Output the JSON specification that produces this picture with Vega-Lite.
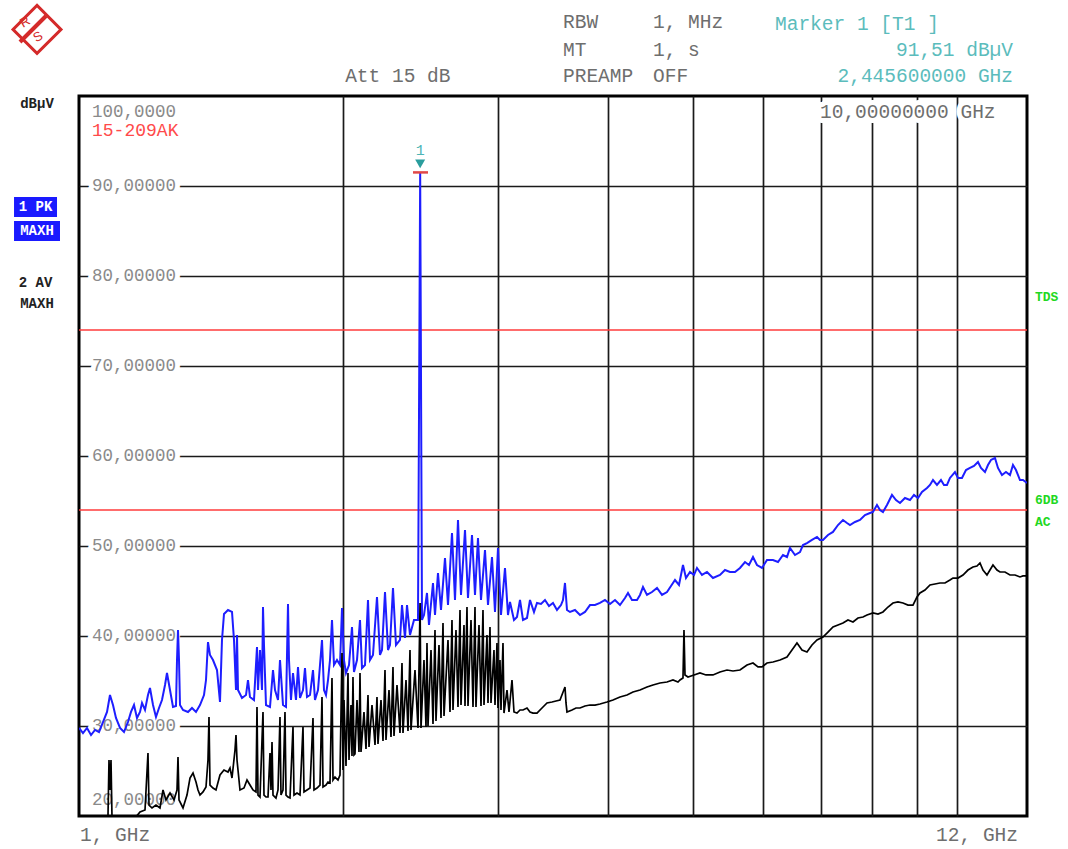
{
"$schema": "https://vega.github.io/schema/vega-lite/v6.json",
"width": 948, "height": 720,
"autosize": {"type": "none"},
"padding": {"left": 79, "top": 96, "right": 41, "bottom": 33},
"background": "white",
"config": {"view": {"stroke": "#000", "strokeWidth": 3}, "font": "Liberation Mono"},
"datasets": {
"pk": [
{"GHz":1.0,"dBuV":29.78},{"GHz":1.0105,"dBuV":29.22},{"GHz":1.0212,"dBuV":29.78},{"GHz":1.032,"dBuV":29.0},{"GHz":1.0428,"dBuV":29.56},{"GHz":1.0538,"dBuV":29.33},{"GHz":1.0649,"dBuV":30.44},{"GHz":1.0762,"dBuV":31.56},{"GHz":1.0846,"dBuV":33.44},{"GHz":1.0932,"dBuV":32.33},{"GHz":1.1018,"dBuV":30.89},{"GHz":1.1135,"dBuV":29.78},{"GHz":1.1252,"dBuV":29.33},{"GHz":1.137,"dBuV":30.44},{"GHz":1.146,"dBuV":31.56},{"GHz":1.1551,"dBuV":32.33},{"GHz":1.1642,"dBuV":30.89},{"GHz":1.1734,"dBuV":31.56},{"GHz":1.1796,"dBuV":32.56},{"GHz":1.1889,"dBuV":31.78},{"GHz":1.1982,"dBuV":33.44},{"GHz":1.2045,"dBuV":34.22},{"GHz":1.2141,"dBuV":32.33},{"GHz":1.2236,"dBuV":31.0},{"GHz":1.2333,"dBuV":32.0},{"GHz":1.243,"dBuV":32.89},{"GHz":1.2529,"dBuV":34.56},{"GHz":1.2594,"dBuV":35.89},{"GHz":1.2694,"dBuV":34.0},{"GHz":1.2794,"dBuV":32.11},{"GHz":1.2895,"dBuV":32.22},{"GHz":1.2929,"dBuV":37.33},{"GHz":1.2963,"dBuV":40.67},{"GHz":1.2997,"dBuV":37.33},{"GHz":1.3031,"dBuV":32.33},{"GHz":1.3134,"dBuV":31.78},{"GHz":1.3307,"dBuV":31.56},{"GHz":1.3447,"dBuV":32.0},{"GHz":1.3589,"dBuV":31.56},{"GHz":1.3732,"dBuV":32.33},{"GHz":1.3877,"dBuV":33.44},{"GHz":1.395,"dBuV":35.11},{"GHz":1.4023,"dBuV":39.33},{"GHz":1.4097,"dBuV":37.89},{"GHz":1.4208,"dBuV":37.33},{"GHz":1.4358,"dBuV":36.22},{"GHz":1.4471,"dBuV":32.67},{"GHz":1.4547,"dBuV":39.56},{"GHz":1.4624,"dBuV":42.44},{"GHz":1.4778,"dBuV":42.89},{"GHz":1.4934,"dBuV":42.67},{"GHz":1.5012,"dBuV":39.56},{"GHz":1.5091,"dBuV":34.0},{"GHz":1.5131,"dBuV":40.11},{"GHz":1.5171,"dBuV":34.0},{"GHz":1.533,"dBuV":33.11},{"GHz":1.5492,"dBuV":33.44},{"GHz":1.5573,"dBuV":35.11},{"GHz":1.5655,"dBuV":33.22},{"GHz":1.582,"dBuV":32.89},{"GHz":1.5945,"dBuV":38.78},{"GHz":1.5987,"dBuV":34.0},{"GHz":1.6071,"dBuV":38.44},{"GHz":1.6156,"dBuV":34.0},{"GHz":1.6198,"dBuV":43.22},{"GHz":1.624,"dBuV":39.0},{"GHz":1.6326,"dBuV":32.33},{"GHz":1.6498,"dBuV":32.11},{"GHz":1.6628,"dBuV":36.22},{"GHz":1.6716,"dBuV":34.0},{"GHz":1.6848,"dBuV":32.89},{"GHz":1.6936,"dBuV":37.33},{"GHz":1.707,"dBuV":32.33},{"GHz":1.7205,"dBuV":32.11},{"GHz":1.7295,"dBuV":43.56},{"GHz":1.734,"dBuV":37.33},{"GHz":1.7431,"dBuV":32.89},{"GHz":1.7523,"dBuV":35.89},{"GHz":1.7661,"dBuV":32.89},{"GHz":1.7754,"dBuV":36.56},{"GHz":1.7848,"dBuV":33.11},{"GHz":1.7988,"dBuV":34.0},{"GHz":1.8083,"dBuV":36.44},{"GHz":1.8178,"dBuV":33.22},{"GHz":1.8322,"dBuV":33.44},{"GHz":1.8466,"dBuV":36.22},{"GHz":1.8563,"dBuV":32.89},{"GHz":1.871,"dBuV":34.0},{"GHz":1.8907,"dBuV":39.56},{"GHz":1.9006,"dBuV":34.0},{"GHz":1.9106,"dBuV":33.44},{"GHz":1.9207,"dBuV":35.11},{"GHz":1.9308,"dBuV":37.33},{"GHz":1.9409,"dBuV":41.78},{"GHz":1.9511,"dBuV":36.78},{"GHz":1.9665,"dBuV":37.33},{"GHz":1.982,"dBuV":36.78},{"GHz":1.9925,"dBuV":43.11},{"GHz":2.0029,"dBuV":37.33},{"GHz":2.0135,"dBuV":35.89},{"GHz":2.0294,"dBuV":36.78},{"GHz":2.0454,"dBuV":41.0},{"GHz":2.0561,"dBuV":36.0},{"GHz":2.0724,"dBuV":37.33},{"GHz":2.0887,"dBuV":41.78},{"GHz":2.0997,"dBuV":36.44},{"GHz":2.1163,"dBuV":36.78},{"GHz":2.133,"dBuV":44.0},{"GHz":2.1442,"dBuV":37.33},{"GHz":2.1611,"dBuV":37.89},{"GHz":2.1839,"dBuV":44.33},{"GHz":2.2011,"dBuV":37.89},{"GHz":2.2127,"dBuV":38.44},{"GHz":2.2302,"dBuV":44.89},{"GHz":2.2478,"dBuV":38.44},{"GHz":2.2596,"dBuV":39.0},{"GHz":2.2774,"dBuV":45.33},{"GHz":2.2954,"dBuV":39.0},{"GHz":2.3196,"dBuV":39.56},{"GHz":2.3318,"dBuV":43.44},{"GHz":2.3502,"dBuV":39.78},{"GHz":2.3626,"dBuV":43.44},{"GHz":2.3812,"dBuV":40.11},{"GHz":2.4063,"dBuV":41.78},{"GHz":2.4317,"dBuV":41.78},{"GHz":2.4456,"dBuV":91.51},{"GHz":2.4573,"dBuV":41.78},{"GHz":2.4702,"dBuV":42.33},{"GHz":2.4897,"dBuV":44.78},{"GHz":2.5028,"dBuV":41.22},{"GHz":2.5292,"dBuV":45.89},{"GHz":2.5425,"dBuV":42.33},{"GHz":2.5625,"dBuV":47.0},{"GHz":2.5828,"dBuV":42.89},{"GHz":2.61,"dBuV":48.67},{"GHz":2.6306,"dBuV":43.44},{"GHz":2.6583,"dBuV":51.44},{"GHz":2.6793,"dBuV":44.0},{"GHz":2.7005,"dBuV":52.89},{"GHz":2.7218,"dBuV":44.56},{"GHz":2.7505,"dBuV":51.78},{"GHz":2.7722,"dBuV":44.22},{"GHz":2.8014,"dBuV":51.22},{"GHz":2.8235,"dBuV":44.56},{"GHz":2.8458,"dBuV":50.89},{"GHz":2.8683,"dBuV":44.0},{"GHz":2.8985,"dBuV":49.56},{"GHz":2.9214,"dBuV":43.44},{"GHz":2.9522,"dBuV":48.78},{"GHz":2.9755,"dBuV":42.67},{"GHz":2.999,"dBuV":49.78},{"GHz":3.0226,"dBuV":42.33},{"GHz":3.0545,"dBuV":47.56},{"GHz":3.0786,"dBuV":42.33},{"GHz":3.0948,"dBuV":43.78},{"GHz":3.1274,"dBuV":41.78},{"GHz":3.1521,"dBuV":42.11},{"GHz":3.177,"dBuV":44.0},{"GHz":3.2021,"dBuV":41.78},{"GHz":3.2358,"dBuV":42.0},{"GHz":3.2614,"dBuV":44.0},{"GHz":3.2957,"dBuV":42.67},{"GHz":3.3218,"dBuV":43.67},{"GHz":3.3568,"dBuV":43.56},{"GHz":3.3921,"dBuV":44.0},{"GHz":3.4279,"dBuV":43.33},{"GHz":3.464,"dBuV":43.67},{"GHz":3.5005,"dBuV":42.89},{"GHz":3.5374,"dBuV":43.44},{"GHz":3.556,"dBuV":44.0},{"GHz":3.5747,"dBuV":45.89},{"GHz":3.5935,"dBuV":42.89},{"GHz":3.6219,"dBuV":42.67},{"GHz":3.6696,"dBuV":42.89},{"GHz":3.7181,"dBuV":42.33},{"GHz":3.7671,"dBuV":42.67},{"GHz":3.8168,"dBuV":43.44},{"GHz":3.8672,"dBuV":43.44},{"GHz":3.9182,"dBuV":43.67},{"GHz":3.9699,"dBuV":44.0},{"GHz":4.0222,"dBuV":43.56},{"GHz":4.0753,"dBuV":44.0},{"GHz":4.1291,"dBuV":43.44},{"GHz":4.1835,"dBuV":44.22},{"GHz":4.2166,"dBuV":44.78},{"GHz":4.261,"dBuV":44.0},{"GHz":4.3172,"dBuV":44.0},{"GHz":4.3513,"dBuV":44.56},{"GHz":4.3856,"dBuV":45.44},{"GHz":4.4319,"dBuV":44.56},{"GHz":4.4903,"dBuV":44.89},{"GHz":4.5496,"dBuV":45.33},{"GHz":4.6096,"dBuV":44.56},{"GHz":4.6704,"dBuV":44.89},{"GHz":4.7196,"dBuV":45.56},{"GHz":4.7694,"dBuV":46.22},{"GHz":4.8196,"dBuV":45.67},{"GHz":4.8704,"dBuV":47.89},{"GHz":4.9089,"dBuV":46.44},{"GHz":4.9606,"dBuV":47.11},{"GHz":5.0129,"dBuV":46.78},{"GHz":5.0525,"dBuV":47.56},{"GHz":5.1191,"dBuV":46.78},{"GHz":5.1867,"dBuV":47.11},{"GHz":5.2689,"dBuV":46.44},{"GHz":5.3664,"dBuV":46.78},{"GHz":5.4372,"dBuV":47.33},{"GHz":5.5089,"dBuV":47.11},{"GHz":5.5816,"dBuV":47.11},{"GHz":5.6552,"dBuV":47.56},{"GHz":5.7299,"dBuV":48.22},{"GHz":5.7902,"dBuV":47.89},{"GHz":5.8513,"dBuV":48.78},{"GHz":5.9129,"dBuV":47.89},{"GHz":5.9909,"dBuV":47.56},{"GHz":6.07,"dBuV":48.44},{"GHz":6.1662,"dBuV":48.44},{"GHz":6.2475,"dBuV":48.22},{"GHz":6.3299,"dBuV":49.0},{"GHz":6.3967,"dBuV":48.78},{"GHz":6.4471,"dBuV":49.78},{"GHz":6.5322,"dBuV":49.0},{"GHz":6.6184,"dBuV":49.33},{"GHz":6.6706,"dBuV":50.11},{"GHz":6.7409,"dBuV":50.33},{"GHz":6.8298,"dBuV":50.67},{"GHz":6.92,"dBuV":51.0},{"GHz":6.9746,"dBuV":50.67},{"GHz":7.0296,"dBuV":50.67},{"GHz":7.1224,"dBuV":51.22},{"GHz":7.2163,"dBuV":51.56},{"GHz":7.3115,"dBuV":52.33},{"GHz":7.408,"dBuV":52.89},{"GHz":7.4861,"dBuV":52.56},{"GHz":7.5451,"dBuV":52.33},{"GHz":7.6447,"dBuV":52.67},{"GHz":7.7455,"dBuV":52.89},{"GHz":7.8477,"dBuV":53.44},{"GHz":7.9512,"dBuV":53.67},{"GHz":8.014,"dBuV":53.78},{"GHz":8.0985,"dBuV":54.56},{"GHz":8.1624,"dBuV":54.0},{"GHz":8.2268,"dBuV":53.78},{"GHz":8.3135,"dBuV":54.56},{"GHz":8.4232,"dBuV":55.67},{"GHz":8.512,"dBuV":55.11},{"GHz":8.6017,"dBuV":54.78},{"GHz":8.7152,"dBuV":55.33},{"GHz":8.8301,"dBuV":55.11},{"GHz":8.9232,"dBuV":55.67},{"GHz":9.0173,"dBuV":55.33},{"GHz":9.1123,"dBuV":56.0},{"GHz":9.2325,"dBuV":56.44},{"GHz":9.3054,"dBuV":56.78},{"GHz":9.3788,"dBuV":57.33},{"GHz":9.4777,"dBuV":56.78},{"GHz":9.5776,"dBuV":57.33},{"GHz":9.6532,"dBuV":56.78},{"GHz":9.7294,"dBuV":56.78},{"GHz":9.8062,"dBuV":57.56},{"GHz":9.9355,"dBuV":58.22},{"GHz":10.014,"dBuV":57.56},{"GHz":10.1196,"dBuV":57.56},{"GHz":10.2262,"dBuV":58.44},{"GHz":10.334,"dBuV":58.67},{"GHz":10.4429,"dBuV":58.89},{"GHz":10.553,"dBuV":59.33},{"GHz":10.6362,"dBuV":58.67},{"GHz":10.7483,"dBuV":58.22},{"GHz":10.8332,"dBuV":59.0},{"GHz":10.9187,"dBuV":59.56},{"GHz":11.0338,"dBuV":59.78},{"GHz":11.1209,"dBuV":58.67},{"GHz":11.2381,"dBuV":57.89},{"GHz":11.3566,"dBuV":58.22},{"GHz":11.4762,"dBuV":57.89},{"GHz":11.5668,"dBuV":59.0},{"GHz":11.6582,"dBuV":58.44},{"GHz":11.781,"dBuV":57.33},{"GHz":11.874,"dBuV":57.33},{"GHz":12.0,"dBuV":57.0}
],
"av": [
{"GHz":1.0,"dBuV":19.33},{"GHz":1.0428,"dBuV":19.33},{"GHz":1.0733,"dBuV":19.56},{"GHz":1.079,"dBuV":20.11},{"GHz":1.0818,"dBuV":26.22},{"GHz":1.0846,"dBuV":22.89},{"GHz":1.0875,"dBuV":26.22},{"GHz":1.0904,"dBuV":19.78},{"GHz":1.1281,"dBuV":19.56},{"GHz":1.1581,"dBuV":19.78},{"GHz":1.1734,"dBuV":20.44},{"GHz":1.1889,"dBuV":20.67},{"GHz":1.1982,"dBuV":27.0},{"GHz":1.2014,"dBuV":21.22},{"GHz":1.2109,"dBuV":20.89},{"GHz":1.2236,"dBuV":21.22},{"GHz":1.2365,"dBuV":20.89},{"GHz":1.2463,"dBuV":22.89},{"GHz":1.2561,"dBuV":21.78},{"GHz":1.2694,"dBuV":22.56},{"GHz":1.2828,"dBuV":21.78},{"GHz":1.2929,"dBuV":22.89},{"GHz":1.2963,"dBuV":26.56},{"GHz":1.2997,"dBuV":21.78},{"GHz":1.3134,"dBuV":20.89},{"GHz":1.3272,"dBuV":22.33},{"GHz":1.3377,"dBuV":24.22},{"GHz":1.3483,"dBuV":24.78},{"GHz":1.3589,"dBuV":23.78},{"GHz":1.3661,"dBuV":22.89},{"GHz":1.3732,"dBuV":22.33},{"GHz":1.3841,"dBuV":22.67},{"GHz":1.395,"dBuV":23.22},{"GHz":1.4023,"dBuV":26.22},{"GHz":1.406,"dBuV":31.0},{"GHz":1.4097,"dBuV":23.44},{"GHz":1.4208,"dBuV":23.11},{"GHz":1.432,"dBuV":22.89},{"GHz":1.4471,"dBuV":24.56},{"GHz":1.4624,"dBuV":25.11},{"GHz":1.4778,"dBuV":24.89},{"GHz":1.4856,"dBuV":25.33},{"GHz":1.4934,"dBuV":24.22},{"GHz":1.5052,"dBuV":27.33},{"GHz":1.5091,"dBuV":29.0},{"GHz":1.5131,"dBuV":26.22},{"GHz":1.525,"dBuV":22.89},{"GHz":1.5411,"dBuV":23.11},{"GHz":1.5533,"dBuV":24.0},{"GHz":1.5655,"dBuV":23.44},{"GHz":1.5779,"dBuV":22.89},{"GHz":1.5903,"dBuV":22.67},{"GHz":1.5945,"dBuV":32.11},{"GHz":1.5987,"dBuV":22.33},{"GHz":1.6071,"dBuV":22.11},{"GHz":1.6198,"dBuV":31.56},{"GHz":1.624,"dBuV":22.33},{"GHz":1.6326,"dBuV":22.11},{"GHz":1.6412,"dBuV":22.11},{"GHz":1.6498,"dBuV":27.0},{"GHz":1.6541,"dBuV":22.89},{"GHz":1.6585,"dBuV":28.22},{"GHz":1.6628,"dBuV":22.33},{"GHz":1.6759,"dBuV":22.0},{"GHz":1.6848,"dBuV":22.89},{"GHz":1.6936,"dBuV":31.0},{"GHz":1.698,"dBuV":22.33},{"GHz":1.707,"dBuV":22.89},{"GHz":1.7159,"dBuV":31.56},{"GHz":1.7205,"dBuV":22.33},{"GHz":1.7295,"dBuV":22.11},{"GHz":1.7386,"dBuV":22.0},{"GHz":1.7523,"dBuV":29.89},{"GHz":1.7569,"dBuV":22.33},{"GHz":1.7708,"dBuV":22.56},{"GHz":1.7848,"dBuV":22.33},{"GHz":1.7988,"dBuV":29.89},{"GHz":1.8036,"dBuV":22.67},{"GHz":1.8178,"dBuV":22.89},{"GHz":1.8322,"dBuV":23.11},{"GHz":1.8466,"dBuV":30.89},{"GHz":1.8515,"dBuV":22.89},{"GHz":1.8661,"dBuV":23.11},{"GHz":1.8808,"dBuV":23.44},{"GHz":1.8907,"dBuV":33.22},{"GHz":1.8957,"dBuV":23.22},{"GHz":1.9106,"dBuV":23.44},{"GHz":1.9207,"dBuV":23.78},{"GHz":1.9308,"dBuV":23.67},{"GHz":1.9409,"dBuV":35.33},{"GHz":1.946,"dBuV":24.0},{"GHz":1.9562,"dBuV":24.33},{"GHz":1.9717,"dBuV":24.0},
{"GHz":1.982,"dBuV":24.56},{"GHz":1.9925,"dBuV":38.11},{"GHz":1.9977,"dBuV":25.11},{"GHz":2.0029,"dBuV":32.89},{"GHz":2.0135,"dBuV":25.56},{"GHz":2.024,"dBuV":35.89},{"GHz":2.0294,"dBuV":26.22},{"GHz":2.04,"dBuV":32.33},{"GHz":2.0454,"dBuV":26.67},{"GHz":2.0507,"dBuV":35.44},{"GHz":2.0561,"dBuV":26.78},{"GHz":2.0615,"dBuV":26.89},{"GHz":2.0724,"dBuV":32.89},{"GHz":2.0832,"dBuV":27.11},{"GHz":2.0887,"dBuV":35.89},{"GHz":2.0942,"dBuV":27.11},{"GHz":2.1107,"dBuV":31.56},{"GHz":2.1218,"dBuV":27.44},{"GHz":2.133,"dBuV":33.44},{"GHz":2.1386,"dBuV":27.67},{"GHz":2.1555,"dBuV":32.33},{"GHz":2.1725,"dBuV":27.89},{"GHz":2.1839,"dBuV":33.22},{"GHz":2.1896,"dBuV":28.0},{"GHz":2.2069,"dBuV":32.89},{"GHz":2.2185,"dBuV":28.33},{"GHz":2.2302,"dBuV":36.22},{"GHz":2.236,"dBuV":28.44},{"GHz":2.2537,"dBuV":34.0},{"GHz":2.2655,"dBuV":28.78},{"GHz":2.2774,"dBuV":36.56},{"GHz":2.2834,"dBuV":28.89},{"GHz":2.3014,"dBuV":34.56},{"GHz":2.3196,"dBuV":29.22},{"GHz":2.3318,"dBuV":37.0},{"GHz":2.3379,"dBuV":29.22},{"GHz":2.3564,"dBuV":35.11},{"GHz":2.3688,"dBuV":29.44},{"GHz":2.3812,"dBuV":38.44},{"GHz":2.3875,"dBuV":29.56},{"GHz":2.4126,"dBuV":36.22},{"GHz":2.4317,"dBuV":29.78},{"GHz":2.445,"dBuV":43.67},{"GHz":2.4509,"dBuV":29.78},{"GHz":2.4702,"dBuV":37.33},{"GHz":2.4832,"dBuV":29.89},{"GHz":2.4897,"dBuV":39.22},{"GHz":2.4963,"dBuV":30.0},{"GHz":2.516,"dBuV":38.44},{"GHz":2.5292,"dBuV":30.22},{"GHz":2.5425,"dBuV":40.67},{"GHz":2.5491,"dBuV":30.56},{"GHz":2.5693,"dBuV":39.0},{"GHz":2.5828,"dBuV":30.89},{"GHz":2.5964,"dBuV":41.44},{"GHz":2.6032,"dBuV":31.11},{"GHz":2.6306,"dBuV":39.56},{"GHz":2.6444,"dBuV":31.56},{"GHz":2.6583,"dBuV":41.78},{"GHz":2.6653,"dBuV":31.78},{"GHz":2.6863,"dBuV":40.67},{"GHz":2.7005,"dBuV":32.11},{"GHz":2.7147,"dBuV":42.89},{"GHz":2.7218,"dBuV":32.33},{"GHz":2.7433,"dBuV":41.22},{"GHz":2.7505,"dBuV":32.22},{"GHz":2.7649,"dBuV":43.22},{"GHz":2.7722,"dBuV":32.22},{"GHz":2.7941,"dBuV":41.78},{"GHz":2.8088,"dBuV":32.11},{"GHz":2.8235,"dBuV":43.22},{"GHz":2.8309,"dBuV":32.11},{"GHz":2.8533,"dBuV":41.22},{"GHz":2.8683,"dBuV":32.22},{"GHz":2.8833,"dBuV":42.89},{"GHz":2.8909,"dBuV":32.33},{"GHz":2.9137,"dBuV":40.11},{"GHz":2.9214,"dBuV":32.56},{"GHz":2.9367,"dBuV":41.0},{"GHz":2.9444,"dBuV":32.56},{"GHz":2.9677,"dBuV":38.44},{"GHz":2.9755,"dBuV":32.33},{"GHz":2.9911,"dBuV":39.22},{"GHz":2.999,"dBuV":32.0},{"GHz":3.0147,"dBuV":37.33},{"GHz":3.0226,"dBuV":31.78},{"GHz":3.0385,"dBuV":39.22},{"GHz":3.0465,"dBuV":31.44},{"GHz":3.0706,"dBuV":34.0},{"GHz":3.0867,"dBuV":31.56},{"GHz":3.1111,"dBuV":35.11},{"GHz":3.1274,"dBuV":31.56},
{"GHz":3.1521,"dBuV":31.44},{"GHz":3.177,"dBuV":31.78},{"GHz":3.2021,"dBuV":31.78},{"GHz":3.2358,"dBuV":32.0},{"GHz":3.2614,"dBuV":31.56},{"GHz":3.2871,"dBuV":31.44},{"GHz":3.3218,"dBuV":31.44},{"GHz":3.3656,"dBuV":32.0},{"GHz":3.41,"dBuV":32.56},{"GHz":3.455,"dBuV":32.67},{"GHz":3.4914,"dBuV":32.78},{"GHz":3.5282,"dBuV":32.89},{"GHz":3.5747,"dBuV":34.33},{"GHz":3.5841,"dBuV":32.56},{"GHz":3.5935,"dBuV":31.56},{"GHz":3.6409,"dBuV":31.78},{"GHz":3.6793,"dBuV":32.0},{"GHz":3.7181,"dBuV":32.0},{"GHz":3.7671,"dBuV":32.22},{"GHz":3.8168,"dBuV":32.33},{"GHz":3.8672,"dBuV":32.33},{"GHz":3.9182,"dBuV":32.44},{"GHz":3.9907,"dBuV":32.67},{"GHz":4.054,"dBuV":32.89},{"GHz":4.1291,"dBuV":33.22},{"GHz":4.2055,"dBuV":33.44},{"GHz":4.2722,"dBuV":33.78},{"GHz":4.3513,"dBuV":34.0},{"GHz":4.4319,"dBuV":34.33},{"GHz":4.5021,"dBuV":34.56},{"GHz":4.5855,"dBuV":34.78},{"GHz":4.6704,"dBuV":34.89},{"GHz":4.7444,"dBuV":35.11},{"GHz":4.807,"dBuV":34.89},{"GHz":4.8323,"dBuV":35.11},{"GHz":4.8704,"dBuV":35.33},{"GHz":4.8832,"dBuV":40.67},{"GHz":4.896,"dBuV":35.67},{"GHz":4.9347,"dBuV":35.44},{"GHz":5.0129,"dBuV":35.67},{"GHz":5.0923,"dBuV":35.89},{"GHz":5.1731,"dBuV":35.67},{"GHz":5.2689,"dBuV":35.67},{"GHz":5.3664,"dBuV":36.0},{"GHz":5.4658,"dBuV":36.22},{"GHz":5.5524,"dBuV":36.11},{"GHz":5.6552,"dBuV":36.22},{"GHz":5.76,"dBuV":36.78},{"GHz":5.8513,"dBuV":37.0},{"GHz":5.9285,"dBuV":36.56},{"GHz":5.9909,"dBuV":36.56},{"GHz":6.07,"dBuV":37.0},{"GHz":6.1662,"dBuV":37.11},{"GHz":6.2804,"dBuV":37.33},{"GHz":6.3967,"dBuV":37.67},{"GHz":6.481,"dBuV":38.44},{"GHz":6.5665,"dBuV":39.22},{"GHz":6.6532,"dBuV":38.44},{"GHz":6.7409,"dBuV":38.22},{"GHz":6.8298,"dBuV":39.0},{"GHz":6.92,"dBuV":39.56},{"GHz":7.0296,"dBuV":39.89},{"GHz":7.1224,"dBuV":40.44},{"GHz":7.2163,"dBuV":41.0},{"GHz":7.3115,"dBuV":41.22},{"GHz":7.408,"dBuV":41.44},{"GHz":7.5057,"dBuV":41.78},{"GHz":7.6047,"dBuV":41.56},{"GHz":7.705,"dBuV":42.0},{"GHz":7.8067,"dBuV":42.11},{"GHz":7.889,"dBuV":42.33},{"GHz":8.014,"dBuV":42.56},{"GHz":8.1197,"dBuV":42.44},{"GHz":8.2268,"dBuV":42.67},{"GHz":8.3354,"dBuV":43.22},{"GHz":8.4453,"dBuV":43.67},{"GHz":8.5567,"dBuV":43.78},{"GHz":8.6696,"dBuV":43.67},{"GHz":8.784,"dBuV":43.44},{"GHz":8.8998,"dBuV":43.44},{"GHz":8.9937,"dBuV":44.33},{"GHz":9.0646,"dBuV":44.78},{"GHz":9.1842,"dBuV":45.11},{"GHz":9.3054,"dBuV":45.67},{"GHz":9.4281,"dBuV":45.78},{"GHz":9.5525,"dBuV":45.89},{"GHz":9.6785,"dBuV":45.89},{"GHz":9.8062,"dBuV":46.22},{"GHz":9.8836,"dBuV":46.44},{"GHz":10.014,"dBuV":46.44},{"GHz":10.1461,"dBuV":46.78},{"GHz":10.28,"dBuV":47.33},{"GHz":10.4155,"dBuV":47.67},{"GHz":10.5253,"dBuV":47.78},{"GHz":10.6084,"dBuV":48.11},{"GHz":10.6921,"dBuV":47.33},{"GHz":10.8048,"dBuV":46.78},{"GHz":10.8901,"dBuV":47.33},{"GHz":10.9761,"dBuV":47.89},{"GHz":11.0918,"dBuV":47.33},{"GHz":11.1794,"dBuV":47.11},{"GHz":11.3269,"dBuV":47.11},{"GHz":11.4762,"dBuV":46.78},{"GHz":11.6277,"dBuV":46.78},{"GHz":11.781,"dBuV":46.56},{"GHz":11.874,"dBuV":46.67},{"GHz":12.0,"dBuV":46.67}
],
"ylab": [
{"dBuV":90,"label":"90,00000"},{"dBuV":80,"label":"80,00000"},{"dBuV":70,"label":"70,00000"},{"dBuV":60,"label":"60,00000"},{"dBuV":50,"label":"50,00000"},{"dBuV":40,"label":"40,00000"},{"dBuV":30,"label":"30,00000"}
],
"limits": [{"name":"TDS","dBuV":74},{"name":"6DB AC","dBuV":54}]
},
"layer": [
{"data":{"name":"limits"},"mark":{"type":"rule","color":"#ff3b3b","strokeWidth":1.6},
 "encoding":{
  "x":{"datum":1,"type":"quantitative","scale":{"type":"log","domain":[1,12],"nice":false},"axis":{"values":[2,3,4,5,6,7,8,9,10],"grid":true,"gridColor":"#1a1a1a","gridWidth":1.7,"gridOpacity":1,"labels":false,"ticks":false,"domain":false,"title":null,"zindex":0}},
  "x2":{"datum":12},
  "y":{"field":"dBuV","type":"quantitative","scale":{"domain":[20,100],"nice":false,"zero":false},"axis":{"values":[30,40,50,60,70,80,90],"grid":true,"gridColor":"#1a1a1a","gridWidth":1.7,"gridOpacity":1,"labels":false,"ticks":false,"domain":false,"title":null,"zindex":0}}}},
{"data":{"name":"ylab"},"mark":{"type":"text","align":"left","baseline":"middle","dx":13,"font":"Liberation Mono","fontSize":17.5,"fill":"white","stroke":"white","strokeWidth":10,"strokeJoin":"round"},
 "encoding":{"x":{"datum":1,"type":"quantitative"},"y":{"field":"dBuV","type":"quantitative"},"text":{"field":"label"}}},
{"data":{"name":"ylab"},"mark":{"type":"text","align":"left","baseline":"middle","dx":13,"font":"Liberation Mono","fontSize":17.5,"fill":"#8a8a8a"},
 "encoding":{"x":{"datum":1,"type":"quantitative"},"y":{"field":"dBuV","type":"quantitative"},"text":{"field":"label"}}},
{"data":{"values":[{}]},"mark":{"type":"text","align":"left","baseline":"middle","font":"Liberation Mono","fontSize":19.5,"fill":"white","stroke":"white","strokeWidth":10,"strokeJoin":"round","text":"10,00000000 GHz"},
 "encoding":{"x":{"datum":6.975,"type":"quantitative"},"y":{"datum":98.2,"type":"quantitative"}}},
{"data":{"values":[{}]},"mark":{"type":"text","align":"left","baseline":"middle","font":"Liberation Mono","fontSize":19.5,"fill":"#6e6e6e","text":"10,00000000 GHz"},
 "encoding":{"x":{"datum":6.975,"type":"quantitative"},"y":{"datum":98.2,"type":"quantitative"}}},
{"data":{"values":[{}]},"mark":{"type":"text","align":"left","baseline":"middle","font":"Liberation Mono","fontSize":17.5,"fill":"#8a8a8a","text":"100,0000"},
 "encoding":{"x":{"datum":1.0347,"type":"quantitative"},"y":{"datum":98.2,"type":"quantitative"}}},
{"data":{"values":[{}]},"mark":{"type":"text","align":"left","baseline":"middle","font":"Liberation Mono","fontSize":18,"fill":"#ff4a4a","text":"15-209AK"},
 "encoding":{"x":{"datum":1.0347,"type":"quantitative"},"y":{"datum":96.1,"type":"quantitative"}}},
{"data":{"values":[{}]},"mark":{"type":"text","align":"left","baseline":"middle","font":"Liberation Mono","fontSize":17.5,"fill":"#8a8a8a","text":"20,00000"},
 "encoding":{"x":{"datum":1.0347,"type":"quantitative"},"y":{"datum":21.75,"type":"quantitative"}}},
{"data":{"name":"pk"},"mark":{"type":"line","color":"#1e1eff","strokeWidth":2,"clip":true},
 "encoding":{"x":{"field":"GHz","type":"quantitative"},"y":{"field":"dBuV","type":"quantitative"}}},
{"data":{"name":"av"},"mark":{"type":"line","color":"#000000","strokeWidth":1.7,"clip":true},
 "encoding":{"x":{"field":"GHz","type":"quantitative"},"y":{"field":"dBuV","type":"quantitative"}}},
{"data":{"values":[{}]},"mark":{"type":"rule","color":"#e04848","strokeWidth":2.5},
 "encoding":{"x":{"datum":2.4001,"type":"quantitative"},"x2":{"datum":2.4963},"y":{"datum":91.51,"type":"quantitative"}}},
{"data":{"values":[{}]},"mark":{"type":"point","shape":"triangle-down","filled":true,"color":"#2a9d9d","size":100,"opacity":1},
 "encoding":{"x":{"datum":2.4456,"type":"quantitative"},"y":{"datum":92.45,"type":"quantitative"}}},
{"data":{"values":[{}]},"mark":{"type":"text","align":"center","baseline":"middle","font":"Liberation Mono","fontSize":15,"fill":"#4cb5b5","text":"1"},
 "encoding":{"x":{"datum":2.4456,"type":"quantitative"},"y":{"datum":94.0,"type":"quantitative"}}},
{"data":{"values":[{}]},"mark":{"type":"text","align":"left","baseline":"middle","font":"Liberation Mono","fontSize":19.5,"fill":"#6e6e6e","text":"Att 15 dB"},
 "encoding":{"x":{"datum":2.009,"type":"quantitative"},"y":{"datum":102.2,"type":"quantitative"}}},
{"data":{"values":[{}]},"mark":{"type":"text","align":"left","baseline":"middle","font":"Liberation Mono","fontSize":19.5,"fill":"#6e6e6e","text":"RBW"},
 "encoding":{"x":{"datum":3.556,"type":"quantitative"},"y":{"datum":108.2,"type":"quantitative"}}},
{"data":{"values":[{}]},"mark":{"type":"text","align":"left","baseline":"middle","font":"Liberation Mono","fontSize":19.5,"fill":"#6e6e6e","text":"1, MHz"},
 "encoding":{"x":{"datum":4.502,"type":"quantitative"},"y":{"datum":108.2,"type":"quantitative"}}},
{"data":{"values":[{}]},"mark":{"type":"text","align":"left","baseline":"middle","font":"Liberation Mono","fontSize":19.5,"fill":"#6e6e6e","text":"MT"},
 "encoding":{"x":{"datum":3.556,"type":"quantitative"},"y":{"datum":105.1,"type":"quantitative"}}},
{"data":{"values":[{}]},"mark":{"type":"text","align":"left","baseline":"middle","font":"Liberation Mono","fontSize":19.5,"fill":"#6e6e6e","text":"1, s"},
 "encoding":{"x":{"datum":4.502,"type":"quantitative"},"y":{"datum":105.1,"type":"quantitative"}}},
{"data":{"values":[{}]},"mark":{"type":"text","align":"left","baseline":"middle","font":"Liberation Mono","fontSize":19.5,"fill":"#6e6e6e","text":"PREAMP"},
 "encoding":{"x":{"datum":3.556,"type":"quantitative"},"y":{"datum":102.2,"type":"quantitative"}}},
{"data":{"values":[{}]},"mark":{"type":"text","align":"left","baseline":"middle","font":"Liberation Mono","fontSize":19.5,"fill":"#6e6e6e","text":"OFF"},
 "encoding":{"x":{"datum":4.502,"type":"quantitative"},"y":{"datum":102.2,"type":"quantitative"}}},
{"data":{"values":[{}]},"mark":{"type":"text","align":"left","baseline":"middle","font":"Liberation Mono","fontSize":19.5,"fill":"#5bbcbc","text":"Marker 1 [T1 ]"},
 "encoding":{"x":{"datum":6.199,"type":"quantitative"},"y":{"datum":108.0,"type":"quantitative"}}},
{"data":{"values":[{}]},"mark":{"type":"text","align":"right","baseline":"middle","font":"Liberation Mono","fontSize":19.5,"fill":"#5bbcbc","text":"91,51 dBµV"},
 "encoding":{"x":{"datum":11.568,"type":"quantitative"},"y":{"datum":105.1,"type":"quantitative"}}},
{"data":{"values":[{}]},"mark":{"type":"text","align":"right","baseline":"middle","font":"Liberation Mono","fontSize":19.5,"fill":"#5bbcbc","text":"2,445600000 GHz"},
 "encoding":{"x":{"datum":11.568,"type":"quantitative"},"y":{"datum":102.2,"type":"quantitative"}}},
{"data":{"values":[{}]},"mark":{"type":"text","align":"left","baseline":"middle","font":"Liberation Mono","fontSize":19.5,"fill":"#6e6e6e","text":"1, GHz"},
 "encoding":{"x":{"datum":1.0026,"type":"quantitative"},"y":{"datum":17.9,"type":"quantitative"}}},
{"data":{"values":[{}]},"mark":{"type":"text","align":"right","baseline":"middle","font":"Liberation Mono","fontSize":19.5,"fill":"#6e6e6e","text":"12, GHz"},
 "encoding":{"x":{"datum":11.72,"type":"quantitative"},"y":{"datum":17.9,"type":"quantitative"}}},
{"data":{"values":[{}]},"mark":{"type":"text","align":"center","baseline":"middle","font":"Liberation Mono","fontWeight":"bold","fontSize":14,"fill":"#222","text":"dBµV"},
 "encoding":{"x":{"datum":0.8958,"type":"quantitative"},"y":{"datum":99.1,"type":"quantitative"}}},
{"data":{"values":[{}]},"mark":{"type":"rect","fill":"#1a1aff"},
 "encoding":{"x":{"datum":0.8434,"type":"quantitative"},"x2":{"datum":0.944},"y":{"datum":88.78,"type":"quantitative"},"y2":{"datum":86.56}}},
{"data":{"values":[{}]},"mark":{"type":"rect","fill":"#1a1aff"},
 "encoding":{"x":{"datum":0.8434,"type":"quantitative"},"x2":{"datum":0.9514},"y":{"datum":86.11,"type":"quantitative"},"y2":{"datum":83.89}}},
{"data":{"values":[{}]},"mark":{"type":"text","align":"center","baseline":"middle","font":"Liberation Mono","fontWeight":"bold","fontSize":14,"fill":"white","text":"1 PK"},
 "encoding":{"x":{"datum":0.8922,"type":"quantitative"},"y":{"datum":87.67,"type":"quantitative"}}},
{"data":{"values":[{}]},"mark":{"type":"text","align":"center","baseline":"middle","font":"Liberation Mono","fontWeight":"bold","fontSize":14,"fill":"white","text":"MAXH"},
 "encoding":{"x":{"datum":0.8958,"type":"quantitative"},"y":{"datum":85.0,"type":"quantitative"}}},
{"data":{"values":[{}]},"mark":{"type":"text","align":"center","baseline":"middle","font":"Liberation Mono","fontWeight":"bold","fontSize":14,"fill":"#222","text":"2 AV"},
 "encoding":{"x":{"datum":0.8922,"type":"quantitative"},"y":{"datum":79.22,"type":"quantitative"}}},
{"data":{"values":[{}]},"mark":{"type":"text","align":"center","baseline":"middle","font":"Liberation Mono","fontWeight":"bold","fontSize":14,"fill":"#222","text":"MAXH"},
 "encoding":{"x":{"datum":0.8958,"type":"quantitative"},"y":{"datum":76.89,"type":"quantitative"}}},
{"data":{"values":[{}]},"mark":{"type":"text","align":"left","baseline":"middle","font":"Liberation Mono","fontWeight":"bold","fontSize":13,"fill":"#22d822","text":"TDS"},
 "encoding":{"x":{"datum":12.255,"type":"quantitative"},"y":{"datum":77.67,"type":"quantitative"}}},
{"data":{"values":[{}]},"mark":{"type":"text","align":"left","baseline":"middle","font":"Liberation Mono","fontWeight":"bold","fontSize":13,"fill":"#22d822","text":"6DB"},
 "encoding":{"x":{"datum":12.255,"type":"quantitative"},"y":{"datum":55.11,"type":"quantitative"}}},
{"data":{"values":[{}]},"mark":{"type":"text","align":"left","baseline":"middle","font":"Liberation Mono","fontWeight":"bold","fontSize":13,"fill":"#22d822","text":"AC"},
 "encoding":{"x":{"datum":12.255,"type":"quantitative"},"y":{"datum":52.67,"type":"quantitative"}}},
{"data":{"values":[{}]},"mark":{"type":"point","shape":"square","angle":45,"filled":false,"stroke":"#d42a2a","strokeWidth":3,"size":1150,"opacity":1},
 "encoding":{"x":{"datum":0.8958,"type":"quantitative"},"y":{"datum":107.4,"type":"quantitative"}}},
{"data":{"values":[{}]},"mark":{"type":"rule","color":"#d42a2a","strokeWidth":4},
 "encoding":{"x":{"datum":0.9171,"type":"quantitative"},"x2":{"datum":0.8567},"y":{"datum":108.89,"type":"quantitative"},"y2":{"datum":106.0}}},
{"data":{"values":[{}]},"mark":{"type":"text","align":"center","baseline":"middle","font":"Liberation Sans","fontSize":13,"fill":"#d42a2a","angle":-30,"text":"R"},
 "encoding":{"x":{"datum":0.868,"type":"quantitative"},"y":{"datum":108.2,"type":"quantitative"}}},
{"data":{"values":[{}]},"mark":{"type":"text","align":"center","baseline":"middle","font":"Liberation Sans","fontSize":13,"fill":"#d42a2a","angle":-30,"text":"S"},
 "encoding":{"x":{"datum":0.8981,"type":"quantitative"},"y":{"datum":106.56,"type":"quantitative"}}}
]
}
